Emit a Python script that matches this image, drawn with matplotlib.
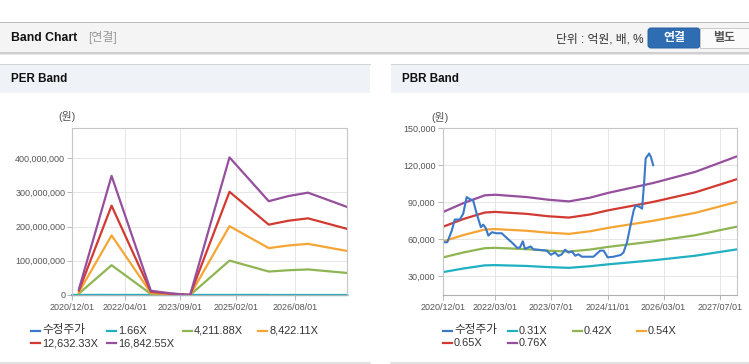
import pandas as pd
import matplotlib
matplotlib.use('Agg')
import matplotlib.pyplot as plt
import matplotlib.dates as mdates
from matplotlib.patches import Rectangle, FancyBboxPatch
from matplotlib.lines import Line2D
from matplotlib.ticker import FuncFormatter

plt.rcParams['font.family'] = ['Liberation Sans', 'Noto Sans CJK KR', 'DejaVu Sans']

W, H = 749, 364

# ---------------- PER band (million won) ----------------
per_dates = ['2021-02-01', '2021-12-01', '2022-12-01', '2023-06-01', '2023-12-01',
             '2024-12-01', '2025-12-01', '2026-06-01', '2026-12-01', '2027-12-01']
per_166_dates = ['2020-12-01'] + per_dates
per_166 = [0.0, 0.002, 0.034, 0.001, 0.0, 0.0, 0.040, 0.027, 0.028, 0.029, 0.025]
per_4211 = [4.4, 87, 3.1, 1.2, 0, 100.5, 68.5, 72.3, 74.7, 64.3]
per_8422 = [8.8, 174, 6.2, 2.5, 0, 201, 137, 144.6, 149.4, 128.6]
per_12632 = [13.1, 261, 9.4, 3.7, 0, 301.5, 205.5, 216.9, 224, 193]
per_16842 = [17.5, 348, 12.5, 5.0, 0, 402, 274, 289, 299, 257]
per_labels = ['수정주가', '1.66X', '4,211.88X', '8,422.11X', '12,632.33X', '16,842.55X']
per_xticks = ['2020-12-01', '2022-04-01', '2023-09-01', '2025-02-01', '2026-08-01']
per_yticks = [0, 100, 200, 300, 400]

# ---------------- PBR band (thousand won) ----------------
pbr_dates = ['2020-12-01', '2021-06-01', '2021-12-01', '2022-03-01', '2022-12-01', '2023-06-01',
             '2023-12-01', '2024-06-01', '2024-11-01', '2025-12-01', '2026-12-01', '2027-12-01']
pbr_031 = [33.5, 36.5, 39.0, 39.2, 38.5, 37.6, 37.0, 38.3, 39.8, 43.1, 46.8, 52.0]
pbr_042 = [45.4, 49.5, 52.9, 53.2, 52.1, 50.9, 50.2, 51.8, 53.9, 58.4, 63.4, 70.4]
pbr_054 = [58.3, 63.6, 68.0, 68.4, 67.0, 65.5, 64.5, 66.6, 69.3, 75.1, 81.5, 90.5]
pbr_065 = [70.2, 76.6, 81.8, 82.3, 80.7, 78.8, 77.7, 80.2, 83.5, 90.4, 98.1, 108.9]
pbr_076 = [82.1, 89.5, 95.7, 96.2, 94.3, 92.2, 90.8, 93.8, 97.6, 105.7, 114.7, 127.4]

price_dates = ['2020-12-13', '2021-01-10', '2021-02-18', '2021-03-15', '2021-04-28', '2021-05-28',
               '2021-06-27', '2021-07-25', '2021-08-22', '2021-09-22', '2021-10-28', '2021-11-18',
               '2021-12-10', '2022-01-01', '2022-02-01', '2022-03-13', '2022-04-27', '2022-06-10',
               '2022-07-22', '2022-09-10', '2022-10-03', '2022-10-27', '2022-11-15', '2022-12-15',
               '2023-01-03', '2023-01-28', '2023-03-25', '2023-05-22', '2023-06-28', '2023-08-03',
               '2023-09-01', '2023-10-01', '2023-10-28', '2023-11-28', '2023-12-27', '2024-01-25',
               '2024-02-22', '2024-03-22', '2024-06-03', '2024-07-01', '2024-08-28', '2024-09-28',
               '2024-11-01', '2024-12-22', '2025-02-22', '2025-03-19', '2025-04-18', '2025-05-15',
               '2025-06-15', '2025-07-03', '2025-08-06', '2025-08-27', '2025-09-15', '2025-09-27',
               '2025-10-27', '2025-11-12', '2025-12-01']
price = [57.7, 57.7, 67.2, 76.1, 76.1, 80.8,
         94.3, 92.6, 91.6, 80.8, 69.9, 72.0,
         69.1, 63.1, 65.8, 65.0, 65.0, 61.2,
         57.7, 53.1, 53.6, 58.5, 52.3, 53.6,
         54.3, 52.0, 51.5, 50.9, 47.6, 49.4,
         46.6, 48.0, 51.7, 49.4, 50.3, 46.8,
         48.0, 46.0, 46.0, 46.0, 50.9, 50.9,
         45.5, 46.0, 47.4, 49.5, 57.7, 69.9,
         83.5, 87.5, 86.3, 84.9, 107.9, 125.6,
         129.6, 126.6, 120.1]
pbr_labels = ['수정주가', '0.31X', '0.42X', '0.54X', '0.65X', '0.76X']
pbr_xticks = ['2020-12-01', '2022-03-01', '2023-07-01', '2024-11-01', '2026-03-01', '2027-07-01']
pbr_yticks = [30, 60, 90, 120, 150]

colors = ['#3a78c9', '#1fb0c2', '#8fb553', '#f5a534', '#d23a31', '#954f9d']

fig = plt.figure(figsize=(W / 100, H / 100), dpi=100)
fig.patch.set_facecolor('white')


def fx(x):
    return x / W


def fy(y):
    return 1 - y / H


def rect(x0, y0, x1, y1, color):
    fig.patches.append(Rectangle((fx(x0), fy(y1)), (x1 - x0) / W, (y1 - y0) / H,
                                 transform=fig.transFigure, facecolor=color, edgecolor='none'))


def hline(y, x0, x1, color, lw=1.0):
    fig.add_artist(Line2D([fx(x0), fx(x1)], [fy(y), fy(y)], transform=fig.transFigure,
                          color=color, lw=lw * 0.72))


# header band
rect(0, 22, W, 52, '#f4f4f4')
rect(0, 52, W, 53.5, '#cfcfcf')
rect(0, 53.5, W, 55, '#e8e8e8')
hline(22, 0, W, '#bcbcbc')
fig.text(fx(11), fy(38), 'Band Chart', fontsize=8.8, fontweight='bold', color='#111', va='center')
fig.text(fx(88), fy(38), '[연결]', fontsize=8.6, color='#999999', va='center')
fig.text(fx(643), fy(39), '단위 : 억원, 배, %', fontsize=8.5, color='#333333', va='center', ha='right')
fig.patches.append(FancyBboxPatch((fx(648), fy(48)), 52 / W, 20 / H,
                                  boxstyle='round,pad=0,rounding_size=%f' % (3 / W),
                                  mutation_aspect=W / H, transform=fig.transFigure,
                                  facecolor='#2f6db3', edgecolor='#285f9e', lw=0.7))
fig.patches.append(Rectangle((fx(700), fy(48)), 50 / W, 20 / H, transform=fig.transFigure,
                             facecolor='#fbfbfb', edgecolor='#c8c8c8', lw=0.7))
fig.text(fx(674), fy(38.5), '연결', fontsize=8.6, fontweight='bold', color='white', ha='center', va='center')
fig.text(fx(724), fy(38.5), '별도', fontsize=8.6, fontweight='bold', color='#555555', ha='center', va='center')

# panel title bars
for x0, x1, title in [(0, 370, 'PER Band'), (391, W, 'PBR Band')]:
    rect(x0, 64, x1, 93, '#eff2f7')
    hline(64, x0, x1, '#d4d4d4')
    hline(362.5, x0, x1, '#d8d8d8', lw=1.5)
    fig.text(fx(x0 + 11), fy(79.5), title, fontsize=8.4, fontweight='bold', color='#111', va='center')


def style_axes(ax, xticks, yticks, fmt):
    ax.set_facecolor('white')
    for s in ax.spines.values():
        s.set_color('#c6c6c6')
        s.set_linewidth(0.8)
    ax.spines['bottom'].set_color('#b0b0b0')
    ax.set_xticks(pd.to_datetime(xticks))
    ax.xaxis.set_major_formatter(mdates.DateFormatter('%Y/%m/%d'))
    ax.set_yticks(yticks)
    ax.yaxis.set_major_formatter(FuncFormatter(fmt))
    ax.grid(True, color='#e6e6e6', lw=0.72)
    ax.set_axisbelow(True)
    ax.tick_params(axis='both', length=3.6, width=0.7, color='#b8b8b8', labelsize=6.5,
                   labelcolor='#555555')
    ax.tick_params(axis='x', pad=2)
    ax.tick_params(axis='y', pad=1.5)
    ax.set_xlim(pd.Timestamp('2020-12-01'), pd.Timestamp('2027-12-01'))


def legend(x_cols, labels):
    order = [(0, 0), (0, 1), (0, 2), (0, 3), (1, 0), (1, 1)]
    for (row, col), lab, c in zip(order, labels, colors):
        x = x_cols[col]
        y = [330.5, 343.3][row]
        fig.add_artist(Line2D([fx(x), fx(x + 9)], [fy(y), fy(y)], transform=fig.transFigure,
                              color=c, lw=1.6))
        size = 8.4 if lab == '수정주가' else 7.9
        fig.text(fx(x + 11), fy(y), lab, fontsize=size, color='#333333', va='center')


# PER chart
ax1 = fig.add_axes([fx(72.3), fy(295), 275 / W, (295 - 128.3) / H])
d = pd.to_datetime(per_dates)
ax1.plot(pd.to_datetime(price_dates), [p / 1000 for p in price], color=colors[0], lw=1.5, clip_on=False)
ax1.plot(pd.to_datetime(per_166_dates), per_166, color=colors[1], lw=1.6, clip_on=False)
for vals, c in zip([per_4211, per_8422, per_12632, per_16842], colors[2:]):
    ax1.plot(d, vals, color=c, lw=1.6)
ax1.set_ylim(0, 487)
style_axes(ax1, per_xticks, per_yticks, lambda v, p: f'{int(v * 1e6):,}')
fig.text(fx(67), fy(117), '(원)', fontsize=7.8, color='#555555', ha='center', va='center')
legend([31, 107, 183, 258], per_labels)

# PBR chart
ax2 = fig.add_axes([fx(442.7), fy(295), 294.6 / W, (295 - 128.3) / H])
d2 = pd.to_datetime(pbr_dates)
for vals, c in zip([pbr_031, pbr_042, pbr_054, pbr_065, pbr_076], colors[1:]):
    ax2.plot(d2, vals, color=c, lw=1.6)
ax2.plot(pd.to_datetime(price_dates), price, color=colors[0], lw=1.5)
ax2.set_ylim(15, 150)
style_axes(ax2, pbr_xticks, pbr_yticks, lambda v, p: f'{int(v * 1000):,}')
fig.text(fx(440), fy(118), '(원)', fontsize=7.8, color='#555555', ha='center', va='center')
legend([443, 508, 573, 637], pbr_labels)

fig.savefig('out.png', dpi=100, facecolor='white')
